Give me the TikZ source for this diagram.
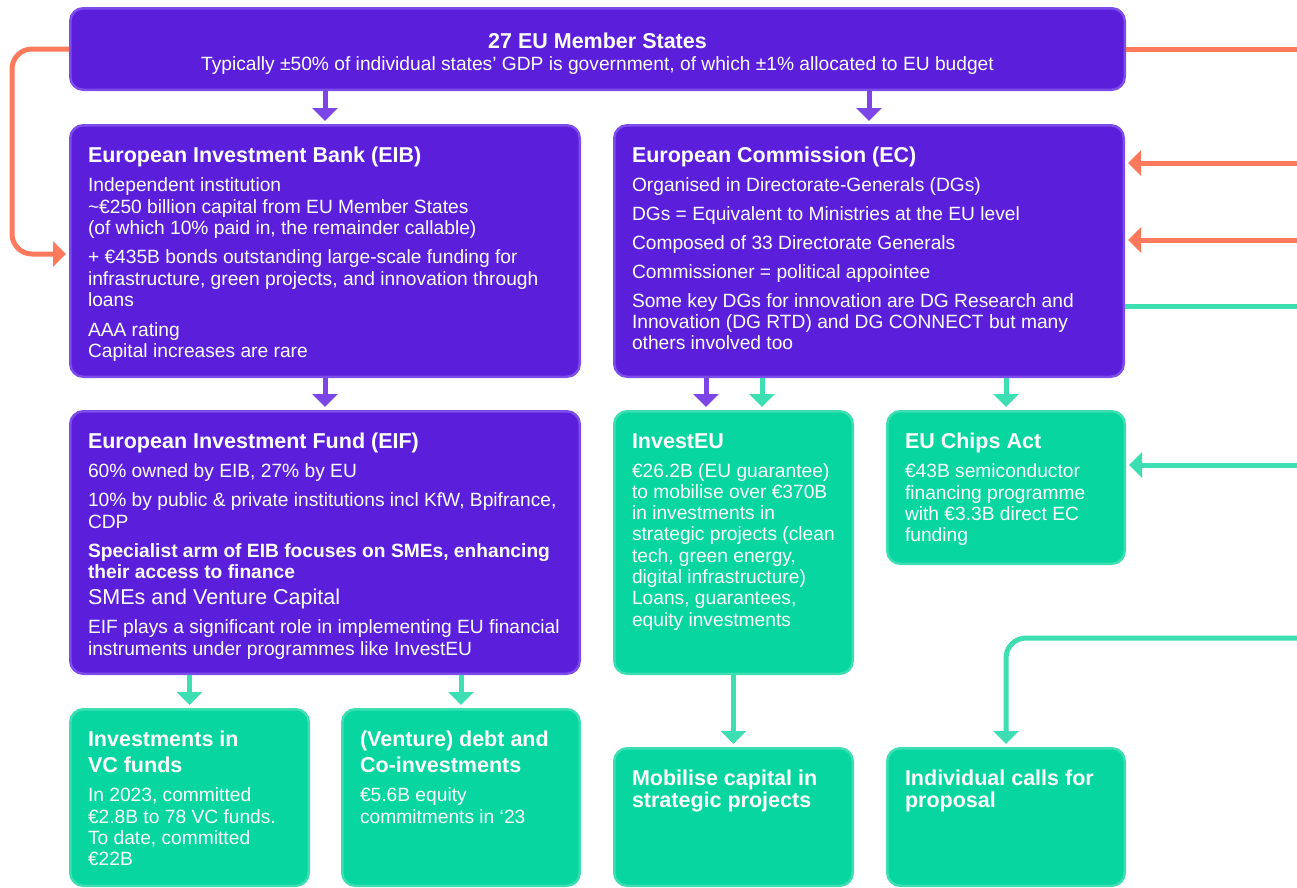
\documentclass[tikz,border=0pt]{standalone}
\usepackage{fontspec}
\setmainfont{Liberation Sans}
\usetikzlibrary{arrows.meta, positioning}

\definecolor{euviolet}{RGB}{91,31,220}
\definecolor{euvioletline}{RGB}{125,77,235}
\definecolor{arrowviolet}{RGB}{124,70,230}
\definecolor{eumint}{RGB}{8,214,160}
\definecolor{eumintline}{RGB}{60,222,178}
\definecolor{eucoral}{RGB}{255,122,92}

\newcommand{\cardtitle}[2][26pt]{{\fontsize{21.5}{#1}\selectfont\bfseries #2\par}\vspace{7.7pt}}
\newcommand{\cardbody}[3]{\parbox[t][#2][t]{\dimexpr#1+20pt\relax}{\raggedright #3}\kern-20pt}

\tikzset{
  card/.style={rectangle, rounded corners=13pt, line width=2.5pt, anchor=north west, inner xsep=17.75pt, inner ysep=22pt, text=white, font=\fontsize{19.2}{21.3}\selectfont},
  violetcard/.style={card, draw=euvioletline, fill=euviolet},
  mintcard/.style={card, draw=eumintline, fill=eumint},
  wire/.style={line width=5pt},
  link/.style={wire, -{Triangle[width=25pt,length=13pt]}, shorten >=3pt},
  violetlink/.style={link, draw=arrowviolet},
  mintlink/.style={link, draw=eumintline},
  corallink/.style={link, draw=eucoral},
}

\begin{document}
\begin{tikzpicture}[x=1pt, y=-1pt]
\useasboundingbox (0,0) rectangle (1297,887);

% Member states on top
\node (states) [violetcard, inner ysep=25pt] at (69,7) {\parbox[t][31.5pt][t]{1019pt}{\centering
    {\fontsize{21.5}{21.2}\selectfont\bfseries 27 EU Member States\par}
    Typically ±50\% of individual states’ GDP is government, of which ±1\% allocated to EU budget}};

% Second row
\node (eib) [violetcard, below=33pt of states.south west, anchor=north west] {\cardbody{474pt}{207.5pt}{%
    \cardtitle{European Investment Bank (EIB)}
    Independent institution\\
    \textasciitilde€250 billion capital from EU Member States\\
    (of which 10\% paid in, the remainder callable)\\[8.2pt]
    + €435B bonds outstanding large-scale funding for\\
    infrastructure, green projects, and innovation through\\
    loans\\[8.2pt]
    AAA rating\\
    Capital increases are rare}};
\node (ec) [violetcard, right=32pt of eib.north east, anchor=north west] {\cardbody{474pt}{207.5pt}{%
    \cardtitle{European Commission (EC)}
    Organised in Directorate-Generals (DGs)\\[7.5pt]
    DGs = Equivalent to Ministries at the EU level\\[7.5pt]
    Composed of 33 Directorate Generals\\[7.5pt]
    Commissioner = political appointee\\[7.5pt]
    Some key DGs for innovation are DG Research and\\
    Innovation (DG RTD) and DG CONNECT but many\\
    others involved too}};

% Third row
\node (eif) [violetcard, below=32pt of eib.south west, anchor=north west] {\cardbody{474pt}{218.5pt}{%
    \cardtitle{European Investment Fund (EIF)}
    60\% owned by EIB, 27\% by EU\\[7.7pt]
    10\% by public \& private institutions incl KfW, Bpifrance,\\
    CDP\\[7.7pt]
    \textbf{Specialist arm of EIB focuses on SMEs, enhancing}\\
    \textbf{their access to finance}\par
    {\fontsize{21.5}{26}\selectfont SMEs and Venture Capital\par}
    \vspace{8pt}
    EIF plays a significant role in implementing EU financial\\
    instruments under programmes like InvestEU}};
\node (investeu) [mintcard, below=32pt of ec.south west, anchor=north west] {\cardbody{203pt}{218.5pt}{%
    \cardtitle{InvestEU}
    €26.2B (EU guarantee)\\
    to mobilise over €370B\\
    in investments in\\
    strategic projects (clean\\
    tech, green energy,\\
    digital infrastructure)\\
    Loans, guarantees,\\
    equity investments}};
\node (chips) [mintcard, right=32pt of investeu.north east, anchor=north west] {\cardbody{202pt}{108.5pt}{%
    \cardtitle{EU Chips Act}
    €43B semiconductor\\
    financing programme\\
    with €3.3B direct EC\\
    funding}};

% Bottom row
\node (vcfunds) [mintcard, below=33pt of eif.south west, anchor=north west] {\cardbody{203pt}{132.5pt}{%
    \cardtitle{Investments in\\ VC funds}
    In 2023, committed\\
    €2.8B to 78 VC funds.\\
    To date, committed\\
    €22B}};
\node (debt) [mintcard, right=31pt of vcfunds.north east, anchor=north west] {\cardbody{202pt}{132.5pt}{%
    \cardtitle{(Venture) debt and\\ Co-investments}
    €5.6B equity\\
    commitments in ‘23}};
\node (mobilise) [mintcard, below=72pt of investeu.south west, anchor=north west] {\cardbody{203pt}{93.5pt}{%
    \cardtitle[21.5pt]{Mobilise capital in\\ strategic projects}}};
\node (calls) [mintcard, right=32pt of mobilise.north east, anchor=north west] {\cardbody{202pt}{93.5pt}{%
    \cardtitle[21.5pt]{Individual calls for\\ proposal}}};

% Loose ends at the page border
\coordinate (loop) at (12,254);
\coordinate (coralout) at (1300,49);
\coordinate (coralin1) at (1300,163);
\coordinate (coralin2) at (1300,240);
\coordinate (mintout) at (1300,306);
\coordinate (mintin1) at (1300,465);
\coordinate (mintin2) at (1300,638);

% Arrows
\draw [violetlink] (states.south -| eib.north) -- (eib.north);
\draw [violetlink] (states.south -| ec.north) -- (ec.north);
\draw [violetlink] (eib.south) -- (eif.north);
\draw [violetlink] ([xshift=-27.5pt]investeu.north |- ec.south) -- ([xshift=-27.5pt]investeu.north);
\draw [mintlink] ([xshift=28.5pt]investeu.north |- ec.south) -- ([xshift=28.5pt]investeu.north);
\draw [mintlink] (chips.north |- ec.south) -- (chips.north);
\draw [mintlink] (vcfunds.north |- eif.south) -- (vcfunds.north);
\draw [mintlink] (debt.north |- eif.south) -- (debt.north);
\draw [mintlink] (investeu.south) -- (mobilise.north);

\draw [corallink, rounded corners=20pt] (states.west) -| (loop) -- (loop -| eib.west);
\draw [wire, eucoral] (states.east |- coralout) -- (coralout);
\draw [corallink] (coralin1) -- (coralin1 -| ec.east);
\draw [corallink] (coralin2) -- (coralin2 -| ec.east);
\draw [wire, eumintline] (ec.east |- mintout) -- (mintout);
\draw [mintlink] (mintin1) -- (mintin1 -| chips.east);
\draw [mintlink, rounded corners=20pt] (mintin2) -| (calls.north);

\end{tikzpicture}
\end{document}
